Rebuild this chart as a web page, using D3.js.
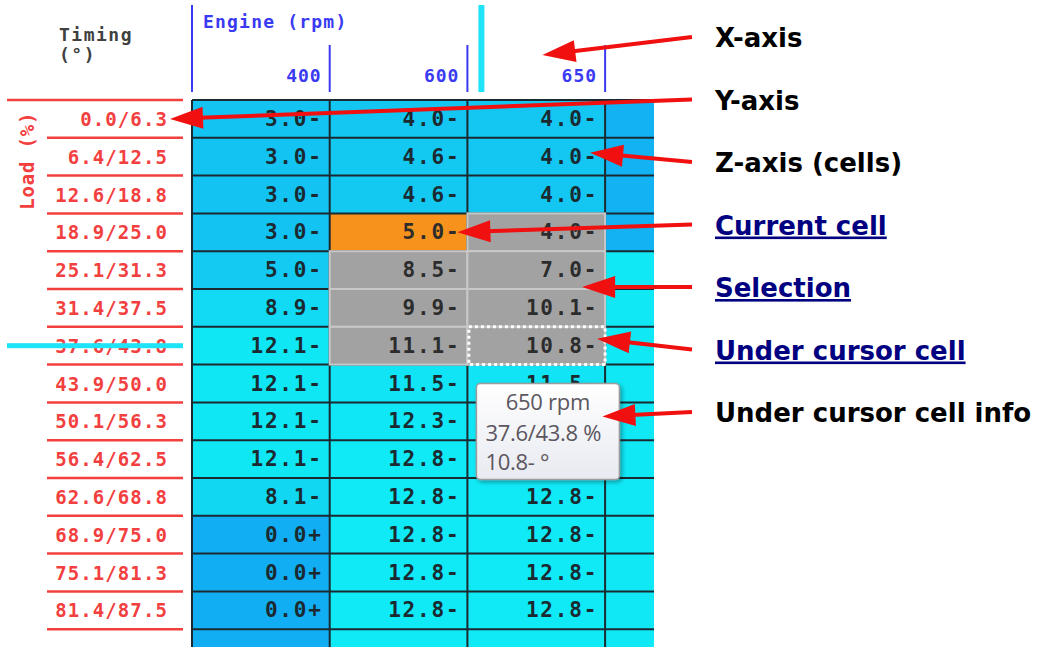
<!DOCTYPE html>
<html>
<head>
<meta charset="utf-8">
<script src="https://cdn.jsdelivr.net/npm/d3@7"></script>
<style>
  body { margin: 0; background: #fff; }
  svg { display: block; }
</style>
</head>
<body>
<div id="chart"></div>
<script>
// Table data (timing map, degrees)
const rpmLabels = ['400', '600', '650'];
const loadLabels = ['0.0/6.3', '6.4/12.5', '12.6/18.8', '18.9/25.0', '25.1/31.3', '31.4/37.5',
  '37.6/43.8', '43.9/50.0', '50.1/56.3', '56.4/62.5', '62.6/68.8', '68.9/75.0', '75.1/81.3', '81.4/87.5'];
const timing400 = ['3.0-', '3.0-', '3.0-', '3.0-', '5.0-', '8.9-', '12.1-', '12.1-', '12.1-', '12.1-', '8.1-', '0.0+', '0.0+', '0.0+'];
const timing600 = ['4.0-', '4.6-', '4.6-', '5.0-', '8.5-', '9.9-', '11.1-', '11.5-', '12.3-', '12.8-', '12.8-', '12.8-', '12.8-', '12.8-'];
const timing650 = ['4.0-', '4.0-', '4.0-', '4.0-', '7.0-', '10.1-', '10.8-', '11.5-', '12.3-', '12.8-', '12.8-', '12.8-', '12.8-', '12.8-'];
// cells cut off by the window edge: only their colour shows
const nextColumn = [0.5, 0.5, 0.5, 0.5, 12.5, 12.5, 12.5, 12.5, 12.5, 12.5, 12.5, 12.5, 12.5, 12.5, 12.5];
const nextRow = [0.0, 12.8, 12.8];

// state of the editor
const currentCell = { col: '600', row: 3 };
const selection = { cols: ['600', '650'], rows: [3, 4, 5, 6] };
const cursorCell = { col: '650', row: 6 };

const notes = ['X-axis', 'Y-axis', 'Z-axis (cells)', 'Current cell', 'Selection', 'Under cursor cell', 'Under cursor cell info'];
const noteIsLink = [false, false, false, true, true, true, false];

const width = 1038;
const height = 647;
const mono = "'DejaVu Sans Mono', 'Liberation Mono', monospace";

const svg = d3.select('#chart').append('svg')
  .attr('width', width)
  .attr('height', height);

const defs = svg.append('defs');
defs.append('clipPath').attr('id', 'grid-clip')
  .append('rect').attr('x', 0).attr('y', 0).attr('width', 654).attr('height', height);

const grad = defs.append('linearGradient').attr('id', 'tip-bg')
  .attr('x1', 0).attr('y1', 0).attr('x2', 0).attr('y2', 1);
grad.append('stop').attr('offset', '0%').attr('stop-color', '#ffffff');
grad.append('stop').attr('offset', '100%').attr('stop-color', '#e8eaf1');

const shadow = defs.append('filter').attr('id', 'tip-shadow')
  .attr('x', '-20%').attr('y', '-20%').attr('width', '140%').attr('height', '140%');
shadow.append('feDropShadow').attr('dx', 2).attr('dy', 2).attr('stdDeviation', 2)
  .attr('flood-color', '#000').attr('flood-opacity', 0.35);

// scales
const colKeys = [...rpmLabels, 'next'];
const x = d3.scaleBand().domain(colKeys).range([192, 192 + 137.7 * colKeys.length]);
const y = d3.scaleBand().domain(d3.range(loadLabels.length + 1)).range([100, 100 + 37.8 * (loadLabels.length + 1)]);
const bw = x.bandwidth();
const bh = y.bandwidth();

const color = d3.scaleLinear()
  .domain([0, 3, 8, 13])
  .range(['#12aef3', '#13c3f2', '#12d7f3', '#10eaf6']);

// build the cell list
const columns = { '400': timing400, '600': timing600, '650': timing650 };
const cells = [];
colKeys.forEach((c, ci) => {
  d3.range(loadLabels.length + 1).forEach(r => {
    let label = null, value;
    if (c === 'next') value = nextColumn[r];
    else if (r === loadLabels.length) value = nextRow[ci];
    else { label = columns[c][r]; value = parseFloat(label); }
    cells.push({ col: c, row: r, label, value });
  });
});

const inSel = d => selection.cols.includes(d.col) && selection.rows.includes(d.row);
const isCurrent = d => d.col === currentCell.col && d.row === currentCell.row;

// tooltip box (placed below the cell under the cursor)
const tx = x(cursorCell.col) + 9;
const ty = y(cursorCell.row) + bh + 19;
const tw = 143, th = 96;
const hiddenByTip = d => x(d.col) >= tx - bw && x(d.col) + bw <= tx + tw + bw &&
  y(d.row) >= ty && y(d.row) + bh <= ty + th;

const grid = svg.append('g').attr('clip-path', 'url(#grid-clip)');

grid.selectAll('rect.cell')
  .data(cells)
  .join('rect')
  .attr('class', 'cell')
  .attr('x', d => x(d.col))
  .attr('y', d => y(d.row))
  .attr('width', bw)
  .attr('height', bh)
  .attr('fill', d => isCurrent(d) ? '#f7931d' : color(d.value));

// dark grid lines
grid.selectAll('line.h')
  .data(d3.range(loadLabels.length + 2))
  .join('line')
  .attr('x1', 192).attr('x2', 660)
  .attr('y1', d => 100 + d * bh).attr('y2', d => 100 + d * bh)
  .attr('stroke', '#1b2a30').attr('stroke-width', 2);

grid.selectAll('line.v')
  .data(colKeys)
  .join('line')
  .attr('x1', d => x(d)).attr('x2', d => x(d))
  .attr('y1', 100).attr('y2', height)
  .attr('stroke', '#1b2a30').attr('stroke-width', 2);

// selection
grid.selectAll('rect.sel')
  .data(cells.filter(d => inSel(d) && !isCurrent(d)))
  .join('rect')
  .attr('x', d => x(d.col))
  .attr('y', d => y(d.row))
  .attr('width', bw)
  .attr('height', bh)
  .attr('fill', '#a2a2a2')
  .attr('stroke', '#c8c8c8')
  .attr('stroke-width', 2);

// cell values
grid.selectAll('text.val')
  .data(cells.filter(d => d.label && !(d.col === cursorCell.col && hiddenByTip(d))))
  .join('text')
  .attr('x', d => x(d.col) + bw - 7)
  .attr('y', d => y(d.row) + bh / 2 + 7)
  .attr('text-anchor', 'end')
  .style('font-family', mono)
  .style('font-weight', 'bold')
  .style('font-size', '21px')
  .style('letter-spacing', '1.8px')
  .style('fill', d => inSel(d) ? '#2c2c2c' : '#1b2a30')
  .text(d => d.label);

// cell under the cursor
grid.append('rect')
  .attr('x', x(cursorCell.col) + 1.5)
  .attr('y', y(cursorCell.row))
  .attr('width', bw - 1.5)
  .attr('height', bh)
  .attr('fill', 'none')
  .attr('stroke', '#fff')
  .attr('stroke-width', 3)
  .attr('stroke-dasharray', '3,3');

// X axis (rpm)
const xAxis = svg.append('g');
xAxis.append('line')
  .attr('x1', 192).attr('x2', 192).attr('y1', 5).attr('y2', 92)
  .attr('stroke', '#3a3af2').attr('stroke-width', 2);
xAxis.selectAll('line.tick')
  .data(rpmLabels)
  .join('line')
  .attr('x1', d => x(d) + bw).attr('x2', d => x(d) + bw)
  .attr('y1', 45).attr('y2', 92)
  .attr('stroke', '#3a3af2').attr('stroke-width', 2);
xAxis.selectAll('text.tick')
  .data(rpmLabels)
  .join('text')
  .attr('x', d => x(d) + bw - 8)
  .attr('y', 82)
  .attr('text-anchor', 'end')
  .style('font-family', mono)
  .style('font-weight', 'bold')
  .style('font-size', '18px')
  .style('letter-spacing', '1px')
  .style('fill', '#3a3af2')
  .text(d => d);
xAxis.append('text')
  .attr('x', 203).attr('y', 28)
  .style('font-family', mono)
  .style('font-weight', 'bold')
  .style('font-size', '18px')
  .style('letter-spacing', '1.2px')
  .style('fill', '#3a3af2')
  .text('Engine (rpm)');

// cursor column marker
svg.append('rect')
  .attr('x', x(cursorCell.col) + 11).attr('y', 5)
  .attr('width', 6).attr('height', 87)
  .attr('fill', '#1fe3f6');

// Z axis title
const zTitle = svg.append('text')
  .style('font-family', mono)
  .style('font-weight', 'bold')
  .style('font-size', '18px')
  .style('letter-spacing', '1.5px')
  .style('fill', '#404040');
zTitle.append('tspan').attr('x', 59).attr('y', 41).text('Timing');
zTitle.append('tspan').attr('x', 59).attr('y', 61).text('(°)');

// Y axis (load)
const yAxis = svg.append('g');
yAxis.selectAll('line.row')
  .data(d3.range(loadLabels.length + 1))
  .join('line')
  .attr('x1', d => d === 0 ? 7 : 47).attr('x2', 183)
  .attr('y1', d => y(d)).attr('y2', d => y(d))
  .attr('stroke', '#f2403f').attr('stroke-width', 2.5);
yAxis.selectAll('text.row')
  .data(loadLabels)
  .join('text')
  .attr('x', 168)
  .attr('y', (d, i) => y(i) + bh / 2 + 7)
  .attr('text-anchor', 'end')
  .style('font-family', mono)
  .style('font-weight', 'bold')
  .style('font-size', '19px')
  .style('letter-spacing', '1.1px')
  .style('fill', '#f2403f')
  .text(d => d);
yAxis.append('text')
  .attr('transform', `translate(34, ${y(1) + bh / 2 + 4}) rotate(-90)`)
  .attr('text-anchor', 'middle')
  .style('font-family', mono)
  .style('font-weight', 'bold')
  .style('font-size', '19px')
  .style('letter-spacing', '0.8px')
  .style('fill', '#f2403f')
  .text('Load (%)');

// cursor row marker
svg.append('rect')
  .attr('x', 7).attr('y', y(cursorCell.row) + bh / 2 - 2.5)
  .attr('width', 176).attr('height', 5)
  .attr('fill', '#1fe3f6');

// tooltip of the cell under the cursor
const tip = svg.append('g').attr('transform', `translate(${tx},${ty})`);
tip.append('rect')
  .attr('width', tw).attr('height', th).attr('rx', 4)
  .attr('fill', 'url(#tip-bg)')
  .attr('stroke', '#9c9c9c').attr('stroke-width', 1.5)
  .attr('filter', 'url(#tip-shadow)');
const tipLines = [
  `${cursorCell.col} rpm`,
  `${loadLabels[cursorCell.row]} %`,
  `${columns[cursorCell.col][cursorCell.row]} °`
];
tip.selectAll('text')
  .data(tipLines)
  .join('text')
  .attr('x', (d, i) => i === 0 ? 71.5 : 9)
  .attr('y', (d, i) => [26, 57, 86][i])
  .attr('text-anchor', (d, i) => i === 0 ? 'middle' : 'start')
  .style('font-family', "'Open Sans', 'Noto Sans', sans-serif")
  .style('font-size', '22px')
  .style('letter-spacing', '-0.3px')
  .style('fill', '#5c5660')
  .text(d => d);

// annotations with arrows
const tips = [
  [x('650') + 75, 55],
  [170, y(0) + bh / 2],
  [x('650') + bw - 15, y(1) + bh / 2 - 4],
  [x(currentCell.col) + bw - 10, y(currentCell.row) + bh / 2],
  [x('650') + bw - 23, y(5) - 2],
  [x(cursorCell.col) + bw - 8, y(cursorCell.row) + bh / 2 - 7],
  [tx + 126, ty + 33]
];

const noteY = i => 47 + i * 62.5;

const ann = svg.append('g');
notes.forEach((n, i) => {
  const x0 = 692, y0 = noteY(i) - 10;
  const [x1, y1] = tips[i];
  const a = Math.atan2(y1 - y0, x1 - x0);
  const len = 33, half = 11;
  const bx = x1 - len * Math.cos(a), by = y1 - len * Math.sin(a);
  ann.append('line')
    .attr('x1', x0).attr('y1', y0)
    .attr('x2', bx + 4 * Math.cos(a)).attr('y2', by + 4 * Math.sin(a))
    .attr('stroke', '#f01010').attr('stroke-width', 4);
  ann.append('path')
    .attr('d', `M${x1},${y1}L${bx - half * Math.sin(a)},${by + half * Math.cos(a)}L${bx + half * Math.sin(a)},${by - half * Math.cos(a)}Z`)
    .attr('fill', '#f01010');
});

ann.selectAll('text.note')
  .data(notes)
  .join('text')
  .attr('x', 715)
  .attr('y', (d, i) => noteY(i))
  .style('font-family', "'DejaVu Sans', Verdana, sans-serif")
  .style('font-weight', 'bold')
  .style('font-size', '26px')
  .style('fill', (d, i) => noteIsLink[i] ? '#000080' : '#000')
  .style('text-decoration', (d, i) => noteIsLink[i] ? 'underline' : 'none')
  .text(d => d);
</script>
</body>
</html>
